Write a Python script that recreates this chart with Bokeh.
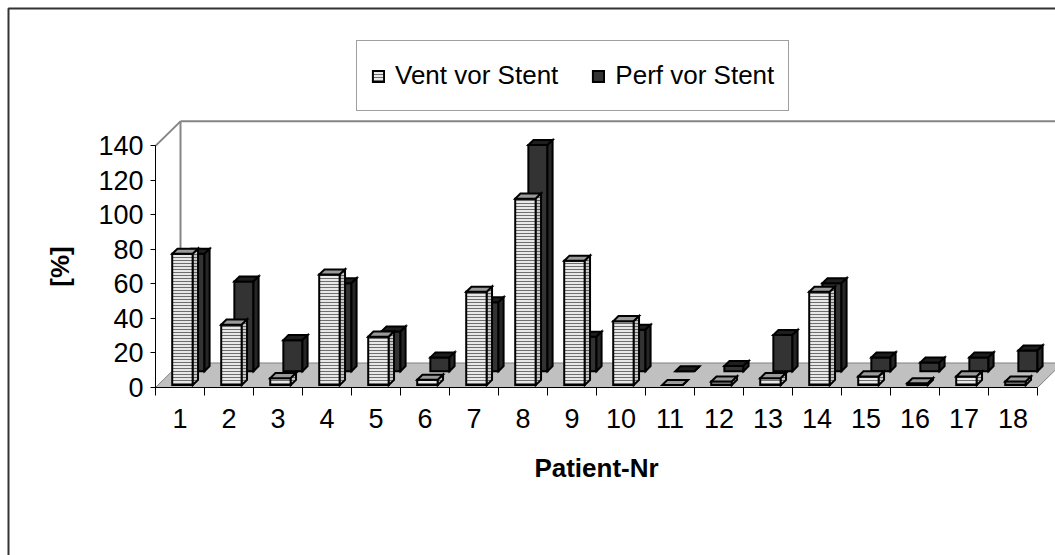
import numpy as np
from bokeh.plotting import figure
from bokeh.models import LinearAxis, FixedTicker, Range1d, Legend, LegendItem
from bokeh.embed import file_html
from bokeh.resources import INLINE

# ---- data -------------------------------------------------------------
patients = [str(i) for i in range(1, 19)]
vent_vor_stent = [76, 35, 4, 64, 28, 3, 54, 108, 72, 37, 0, 2, 4, 54, 5, 1, 5, 2]
perf_vor_stent = [68, 52, 18, 51, 23, 8, 40, 131, 20, 24, 0, 3, 21, 51, 8, 5, 8, 12]
y_ticks = [0, 20, 40, 60, 80, 100, 120, 140]

# ---- layout -----------------------------------------------------------
W, H = 1055, 555
ORIGIN_X, ORIGIN_Y = 155, 387      # pixel corner where the two axes meet
CAT_PX = 49.0                      # pixels per patient slot
UNIT_PX = 1.726                    # pixels per percent
DEPTH_X = 25.0 / CAT_PX            # oblique depth of the floor, in slot units
DEPTH_Y = 24.5 / UNIT_PX           # oblique depth of the floor, in percent units
Y_MAX = y_ticks[-1]
N = len(patients)

FONT = "Liberation Sans"
TICK_SIZE = "27px"
TITLE_SIZE = "26px"


def px_x(px):
    return (px - ORIGIN_X) / CAT_PX


def px_y(py):
    return (ORIGIN_Y - py) / UNIT_PX


p = figure(width=W, height=H,
           x_range=Range1d(px_x(0), px_x(W)),
           y_range=Range1d(px_y(H), px_y(0)),
           x_axis_type=None, y_axis_type=None,
           output_backend="svg", toolbar_location=None,
           min_border=0)
p.outline_line_color = None
p.background_fill_color = "white"

# chart area frame (top and left edges)
p.line([px_x(8), px_x(8), px_x(W + 5)], [px_y(H + 5), px_y(8), px_y(8)],
       line_color="#333333", line_width=2)

# ---- floor and walls ----------------------------------------------------
p.patch([0, N, N + DEPTH_X, DEPTH_X], [0, 0, DEPTH_Y, DEPTH_Y],
        fill_color="#c0c0c0", line_color="#808080", line_width=1)
wall_color = "#858585"
p.line([0, DEPTH_X], [Y_MAX, Y_MAX + DEPTH_Y], line_color=wall_color, line_width=2)
p.line([DEPTH_X, DEPTH_X], [DEPTH_Y, Y_MAX + DEPTH_Y], line_color=wall_color, line_width=2)
p.line([DEPTH_X, N + DEPTH_X + 2], [Y_MAX + DEPTH_Y, Y_MAX + DEPTH_Y],
       line_color=wall_color, line_width=2)


# ---- 3D columns ---------------------------------------------------------
def column_faces(values, left, right, z0, z1):
    """Front, top and side faces of oblique columns sitting in one depth row."""
    v = np.asarray(values, dtype=float)
    base = np.arange(len(v), dtype=float)
    x0 = base + left + z0 * DEPTH_X
    x1 = base + right + z0 * DEPTH_X
    dx = (z1 - z0) * DEPTH_X
    y0 = np.full_like(v, z0 * DEPTH_Y)
    dy = (z1 - z0) * DEPTH_Y
    front_x = [[a, b, b, a] for a, b in zip(x0, x1)]
    front_y = [[b0, b0, b0 + h, b0 + h] for b0, h in zip(y0, v)]
    top_x = [[a, b, b + dx, a + dx] for a, b in zip(x0, x1)]
    top_y = [[b0 + h, b0 + h, b0 + h + dy, b0 + h + dy] for b0, h in zip(y0, v)]
    side_x = [[b, b + dx, b + dx, b] for b in x1]
    side_y = [[b0, b0 + dy, b0 + h + dy, b0 + h] for b0, h in zip(y0, v)]
    return (front_x, front_y), (top_x, top_y), (side_x, side_y)


outline = dict(line_color="black", line_width=2, line_join="miter")

# back row: Perf vor Stent
(pf, pt, ps) = column_faces(perf_vor_stent, 0.27, 0.66, 0.665, 0.87)
perf_front = p.patches(pf[0], pf[1], fill_color="#333333", **outline)
p.patches(pt[0], pt[1], fill_color="#1e1e1e", **outline)
p.patches(ps[0], ps[1], fill_color="#262626", **outline)

# front row: Vent vor Stent
(vf, vt, vs) = column_faces(vent_vor_stent, 0.29, 0.71, 0.10, 0.31)
vent_front = p.patches(vf[0], vf[1], fill_color="#e8e8e8",
                       hatch_pattern="horizontal_line", hatch_color="#6e6e6e",
                       hatch_scale=3, hatch_weight=1, **outline)
p.patches(vt[0], vt[1], fill_color="#9a9a9a", **outline)
p.patches(vs[0], vs[1], fill_color="#c8c8c8",
          hatch_pattern="horizontal_line", hatch_color="#606060",
          hatch_scale=3, hatch_weight=1, **outline)

# ---- axes ---------------------------------------------------------------
yaxis = LinearAxis(fixed_location=0, ticker=FixedTicker(ticks=y_ticks), bounds=(0, Y_MAX))
yaxis.major_tick_out = 5
yaxis.major_tick_in = 0
yaxis.minor_tick_out = 0
yaxis.minor_tick_in = 0
yaxis.axis_line_color = "black"
yaxis.major_tick_line_color = "black"
yaxis.major_label_text_font = FONT
yaxis.major_label_text_font_size = TICK_SIZE
yaxis.major_label_text_color = "black"
yaxis.major_label_standoff = 7
yaxis.axis_label = "[%]"
yaxis.axis_label_text_font = FONT
yaxis.axis_label_text_font_size = TITLE_SIZE
yaxis.axis_label_text_font_style = "bold"
yaxis.axis_label_text_color = "black"
yaxis.axis_label_standoff = 20
p.add_layout(yaxis, "left")

centers = [i + 0.5 for i in range(N)]
xaxis = LinearAxis(fixed_location=0,
                   ticker=FixedTicker(ticks=centers, minor_ticks=list(range(N + 1))),
                   bounds=(0, N))
xaxis.major_label_overrides = {c: lab for c, lab in zip(centers, patients)}
xaxis.major_tick_out = 0
xaxis.major_tick_in = 0
xaxis.minor_tick_out = 8
xaxis.minor_tick_in = 0
xaxis.minor_tick_line_color = "black"
xaxis.axis_line_color = "black"
xaxis.major_label_text_font = FONT
xaxis.major_label_text_font_size = TICK_SIZE
xaxis.major_label_text_color = "black"
xaxis.major_label_standoff = 13
xaxis.axis_label = "Patient-Nr"
xaxis.axis_label_text_font = FONT
xaxis.axis_label_text_font_size = TITLE_SIZE
xaxis.axis_label_text_font_style = "bold"
xaxis.axis_label_text_color = "black"
xaxis.axis_label_standoff = 22
p.add_layout(xaxis, "below")

# ---- legend -------------------------------------------------------------
legend = Legend(items=[LegendItem(label="Vent vor Stent", renderers=[vent_front]),
                       LegendItem(label="Perf vor Stent", renderers=[perf_front])],
                orientation="horizontal", location=(356, H - 111))
legend.label_text_font = FONT
legend.label_text_font_size = TITLE_SIZE
legend.label_text_color = "black"
legend.glyph_width = 14
legend.glyph_height = 14
legend.label_standoff = 10
legend.spacing = 33
legend.padding = 14
legend.margin = 0
legend.label_height = 41
legend.border_line_color = "#404040"
legend.border_line_width = 1.5
legend.background_fill_color = "white"
legend.background_fill_alpha = 1
p.add_layout(legend, "center")

open("out.html", "w").write(file_html(p, INLINE))
